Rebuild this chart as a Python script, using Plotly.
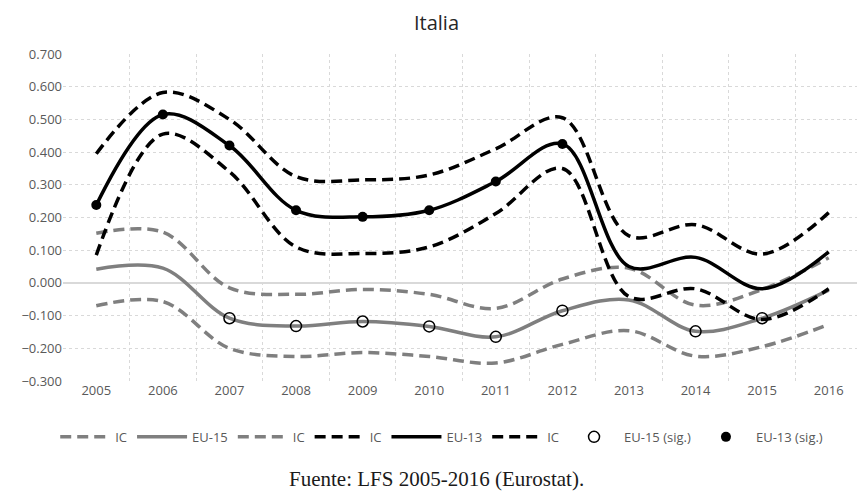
import plotly.graph_objects as go

years = ["2005", "2006", "2007", "2008", "2009", "2010", "2011", "2012", "2013", "2014", "2015", "2016"]

eu15_upper = [0.152, 0.155, -0.015, -0.035, -0.020, -0.035, -0.078, 0.012, 0.045, -0.068, -0.020, 0.077]
eu15 = [0.042, 0.045, -0.108, -0.132, -0.118, -0.133, -0.165, -0.085, -0.052, -0.148, -0.108, -0.022]
eu15_lower = [-0.070, -0.057, -0.200, -0.225, -0.213, -0.225, -0.245, -0.188, -0.146, -0.224, -0.195, -0.127]

eu13_upper = [0.395, 0.582, 0.500, 0.325, 0.315, 0.330, 0.410, 0.505, 0.144, 0.178, 0.088, 0.215]
eu13 = [0.238, 0.515, 0.420, 0.222, 0.202, 0.222, 0.310, 0.425, 0.050, 0.078, -0.018, 0.095]
eu13_lower = [0.085, 0.455, 0.340, 0.110, 0.090, 0.110, 0.212, 0.350, -0.042, -0.018, -0.112, -0.018]

eu15_sig = [None, None, -0.108, -0.132, -0.118, -0.133, -0.165, -0.085, None, -0.148, -0.108, None]
eu13_sig = [0.238, 0.515, 0.420, 0.222, 0.202, 0.222, 0.310, 0.425, None, None, None, None]

GREY = "#7f7f7f"
BLACK = "#000000"
DASH = "11px,6px"

fig = go.Figure()

def line(y, name, color, dash):
    fig.add_trace(go.Scatter(
        x=years, y=y, name=name, mode="lines",
        line=dict(color=color, width=3.5, dash=dash, shape="spline", smoothing=1),
        hoverinfo="skip"))

line(eu15_upper, "IC", GREY, DASH)
line(eu15, "EU-15", GREY, "solid")
line(eu15_lower, "IC", GREY, DASH)
line(eu13_upper, "IC", BLACK, DASH)
line(eu13, "EU-13", BLACK, "solid")
line(eu13_lower, "IC", BLACK, DASH)

fig.add_trace(go.Scatter(
    x=years, y=eu15_sig, name="EU-15 (sig.)", mode="markers",
    marker=dict(symbol="circle-open", size=11, color=BLACK, line=dict(width=1.5, color=BLACK))))
fig.add_trace(go.Scatter(
    x=years, y=eu13_sig, name="EU-13 (sig.)", mode="markers",
    marker=dict(symbol="circle", size=10, color=BLACK)))

W, H = 857, 483
fig.update_layout(
    width=W, height=H,
    margin=dict(l=55, r=3, t=46, b=110, autoexpand=False),
    paper_bgcolor="white", plot_bgcolor="white",
    font=dict(family="Open Sans, Liberation Sans, sans-serif", color="#595959", size=12),
    title=dict(text="Italia", x=0.5, xanchor="center", y=1 - 15 / H, yanchor="middle",
               font=dict(size=20, color="#262626")),
    showlegend=True,
    legend=dict(orientation="h", x=0.474, xanchor="center", y=-0.171, yanchor="middle",
                font=dict(size=13, color="#595959"), itemwidth=50, tracegroupgap=0),
    xaxis=dict(type="category", range=[-0.5, 11.5], tickson="boundaries", ticks="", showline=False,
               automargin=False, showgrid=True, gridcolor="#d9d9d9", griddash="dot", gridwidth=1,
               tickfont=dict(size=13, color="#595959")),
    yaxis=dict(range=[-0.3, 0.7], dtick=0.1, tickformat=".3f", showgrid=True, automargin=False,
               gridcolor="#d9d9d9", griddash="dot", gridwidth=1,
               zeroline=True, zerolinecolor="#d9d9d9", zerolinewidth=1.5,
               showline=False, ticks="", tickfont=dict(size=13, color="#595959")),
    annotations=[dict(text="Fuente: LFS 2005-2016 (Eurostat).", x=0.468, xref="paper",
                      y=-0.30, yref="paper", xanchor="center", yanchor="middle",
                      showarrow=False,
                      font=dict(family="Liberation Serif, DejaVu Serif, serif", size=21, color="#1a1a1a"))],
)

fig.write_html("out.html")
